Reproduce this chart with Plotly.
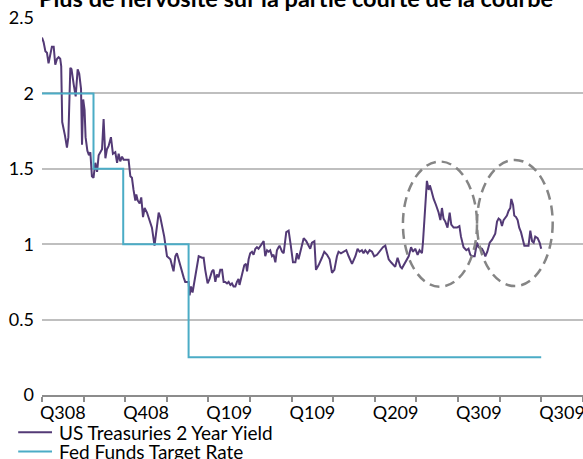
import plotly.graph_objects as go

# Trading-day position (21 trading days per monthly tick, day 0 = start of Sep 2008)
yield_day = [
    0.0, 0.8, 1.7, 2.5, 3.3, 4.2, 5.0, 5.9, 6.7, 7.6, 8.4, 9.2, 9.7, 10.2, 10.9, 11.6,
    12.6, 13.3, 14.3, 14.9, 16.0, 17.0, 18.0, 18.8, 19.7, 20.2, 20.8, 21.5, 22.0, 22.9,
    23.7, 24.4, 25.2, 26.0, 26.9, 27.8, 28.6, 29.4, 30.3, 31.1, 32.0, 32.8, 33.6, 34.8,
    35.8, 37.0, 37.9, 38.7, 39.5, 40.4, 41.2, 42.9, 43.7, 44.6, 45.4, 46.2, 47.1, 47.6,
    48.3, 49.3, 50.1, 51.0, 51.8, 53.0, 54.3, 55.5, 56.8, 58.1, 58.9, 59.7, 60.6, 61.7,
    63.1, 64.0, 64.8, 66.4, 67.3, 68.1, 69.8, 71.5, 72.3, 74.0, 74.5, 75.2, 76.0, 76.9,
    78.2, 79.1, 80.8, 81.6, 82.4, 83.6, 84.6, 85.8, 86.6, 87.5, 88.3, 89.1, 90.0, 90.9,
    91.7, 92.5, 93.4, 94.2, 95.1, 95.9, 96.7, 97.6, 98.4, 99.2, 99.7, 101.0, 101.5, 102.1,
    103.0, 103.5, 104.3, 105.1, 106.0, 106.8, 107.7, 108.5, 109.3, 110.2, 111.1, 111.9,
    112.7, 113.6, 114.4, 115.2, 116.1, 116.9, 117.8, 118.6, 119.4, 119.9, 121.2, 122.0,
    123.3, 124.5, 125.6, 126.7, 127.9, 128.7, 129.5, 130.7, 132.1, 133.4, 134.6, 135.4,
    136.3, 137.5, 138.3, 139.6, 141.3, 142.5, 143.9, 145.2, 146.4, 147.6, 148.9, 149.7,
    150.9, 152.2, 153.6, 154.8, 156.5, 158.2, 159.3, 160.3, 161.5, 162.3, 163.2, 164.4,
    165.4, 166.6, 167.7, 169.1, 170.8, 172.1, 173.3, 174.2, 175.0, 176.2, 177.5, 178.3,
    179.5, 180.9, 181.7, 183.4, 185.1, 186.3, 187.3, 188.4, 189.6, 190.6, 191.8, 192.3,
    194.3, 195.2, 195.8, 196.5, 197.7, 198.9, 200.2, 201.1, 201.9, 202.7, 203.6, 204.7,
    205.8, 206.6, 207.8, 209.5, 210.7, 211.5, 212.8, 214.2, 215.3, 216.2, 217.1, 218.4,
    219.6, 220.4, 222.1, 222.9, 223.8, 224.8, 226.0, 227.2, 228.0, 228.8, 229.7, 230.5,
    231.4, 232.2, 233.0, 233.9, 234.7, 235.5, 236.4, 236.9, 237.8, 238.4, 239.3, 240.1,
    240.9, 241.8, 242.7, 243.5, 244.5, 245.6, 246.5, 247.4, 248.2, 249.0, 250.2, 251.2,
    252.0,
]

# US Treasuries 2 Year Yield (%)
yield_2y = [
    2.37, 2.34, 2.28, 2.27, 2.20, 2.26, 2.31, 2.31, 2.19, 2.23, 2.24, 2.23, 2.18, 1.81, 1.77, 1.72,
    1.64, 1.71, 2.17, 2.16, 2.06, 1.98, 2.16, 2.13, 2.03, 1.66, 1.96, 1.89, 1.71, 1.62,
    1.59, 1.61, 1.45, 1.44, 1.54, 1.48, 1.59, 1.61, 1.63, 1.83, 1.57, 1.63, 1.65, 1.71,
    1.60, 1.61, 1.54, 1.60, 1.55, 1.58, 1.56, 1.56, 1.56, 1.45, 1.44, 1.36, 1.29, 1.33,
    1.29, 1.27, 1.31, 1.18, 1.24, 1.21, 1.16, 1.11, 0.99, 1.15, 1.21, 1.18, 1.13, 1.05,
    0.92, 0.91, 0.90, 0.82, 0.92, 0.94, 0.85, 0.78, 0.75, 0.75, 0.66, 0.72, 0.68, 0.75,
    0.86, 0.92, 0.91, 0.91, 0.83, 0.74, 0.77, 0.82, 0.83, 0.75, 0.80, 0.78, 0.83, 0.83,
    0.75, 0.75, 0.74, 0.75, 0.73, 0.74, 0.72, 0.72, 0.75, 0.77, 0.73, 0.81, 0.82, 0.86,
    0.87, 0.82, 0.90, 0.94, 0.95, 0.93, 0.97, 0.98, 0.97, 0.99, 1.01, 1.02,
    0.92, 0.96, 0.95, 0.96, 0.92, 0.93, 0.88, 0.96, 0.98, 0.99, 0.95, 0.94,
    1.08, 1.09, 0.99, 0.88, 0.88, 0.94, 0.90, 0.96, 1.04, 1.02, 0.99, 0.97,
    1.01, 1.02, 0.83, 0.86, 0.91, 0.95, 0.93, 0.90, 0.81, 0.83, 0.92, 0.95,
    0.94, 0.95, 0.96, 0.92, 0.87, 0.92, 0.97, 0.95, 0.96, 0.94, 0.96, 0.94,
    0.96, 0.95, 0.92, 0.93, 0.96, 0.98, 0.99, 0.95, 0.90, 0.88, 0.86, 0.85,
    0.91, 0.85, 0.84, 0.88, 0.92, 0.98, 0.95, 0.97, 0.93, 0.96, 0.94, 1.01,
    1.42, 1.36, 1.39, 1.36, 1.30, 1.26, 1.21, 1.16, 1.24, 1.17, 1.15, 1.11,
    1.21, 1.13, 1.11, 1.11, 1.12, 1.05, 0.98, 0.96, 0.97, 0.93, 0.92, 0.92,
    1.01, 0.98, 0.97, 0.95, 0.92, 0.95, 1.01, 1.03, 1.05, 1.07, 1.15, 1.17,
    1.16, 1.12, 1.16, 1.18, 1.19, 1.22, 1.24, 1.30, 1.26, 1.19, 1.18, 1.16,
    1.11, 1.08, 1.03, 0.99, 0.99, 0.99, 1.09, 1.02, 1.01, 1.05, 1.04, 1.01,
    0.97,
]

# Fed Funds Target Rate (%), step changes
fed_day = [0, 26, 41, 74, 252]
fed_rate = [2.0, 1.5, 1.0, 0.25, 0.25]

# Category axis: one tick per 21 trading days, label every other interval
tick_days = list(range(0, 274, 21))
label_days = [10.5, 52.5, 94.5, 136.5, 178.5, 220.5, 262.5]
label_text = ["Q308", "Q408", "Q109", "Q109", "Q209", "Q309", "Q309"]

series_names = ["US Treasuries 2 Year Yield", "Fed Funds Target Rate"]
title_text = "Plus de nervosité sur la partie courte de la courbe"

PURPLE = "#533a76"
AQUA = "#4bacc6"
FONT = "Lato"

fig = go.Figure()
fig.add_trace(go.Scatter(
    x=yield_day, y=yield_2y, mode="lines", name=series_names[0],
    line=dict(color=PURPLE, width=2),
))
fig.add_trace(go.Scatter(
    x=fed_day, y=fed_rate, mode="lines", name=series_names[1],
    line=dict(color=AQUA, width=2, shape="hv"),
))

# dashed rings around the two recent bursts of volatility
for x0, x1, y0, y1 in [(182.2, 219.6, 0.718, 1.548), (219.6, 257.8, 0.722, 1.559)]:
    fig.add_shape(type="circle", xref="x", yref="y", x0=x0, x1=x1, y0=y0, y1=y1,
                  line=dict(color="#858585", width=2.5, dash="10px,6px"))

# legend block below the axis: short line sample + label per series
for name, color, ly in zip(series_names, [PURPLE, AQUA], [-0.099, -0.150]):
    fig.add_shape(type="line", xref="paper", yref="paper",
                  x0=-0.044, x1=0.0185, y0=ly, y1=ly,
                  line=dict(color=color, width=2))
    fig.add_annotation(text=name, xref="paper", yref="paper", x=0.027, y=ly,
                       xanchor="left", yanchor="middle", showarrow=False,
                       font=dict(family=FONT, size=19, color="#000"))

fig.add_annotation(
    text=f"<b>{title_text}</b>", xref="paper", yref="paper", x=0.47, y=1.0,
    xanchor="center", yanchor="bottom", yshift=4, showarrow=False,
    font=dict(family=FONT, size=23.5, color="#000"),
)

fig.update_layout(
    width=583, height=459,
    margin=dict(l=42, r=0, t=18, b=64, autoexpand=False),
    paper_bgcolor="white", plot_bgcolor="white",
    font=dict(family=FONT, size=18, color="#000"),
    showlegend=False,
    xaxis=dict(
        range=[0, 273.1], showgrid=False, zeroline=False,
        showline=True, linecolor="#8c8c8c", linewidth=2,
        tickvals=label_days, ticktext=label_text, ticks="",
        ticklabeloverflow="allow",
        tickfont=dict(family=FONT, size=18, color="#000"),
        minor=dict(tickvals=tick_days, ticks="outside", ticklen=5,
                   tickcolor="#8c8c8c", tickwidth=1.5, showgrid=False),
        fixedrange=True,
    ),
    yaxis=dict(
        range=[0, 2.5], dtick=0.5, tick0=0, showgrid=True,
        gridcolor="#bfbfbf", gridwidth=1.5, zeroline=False, showline=False,
        ticks="", ticklabelstandoff=7,
        tickfont=dict(family=FONT, size=18, color="#000"),
        fixedrange=True,
    ),
)

fig.write_html("out.html")
